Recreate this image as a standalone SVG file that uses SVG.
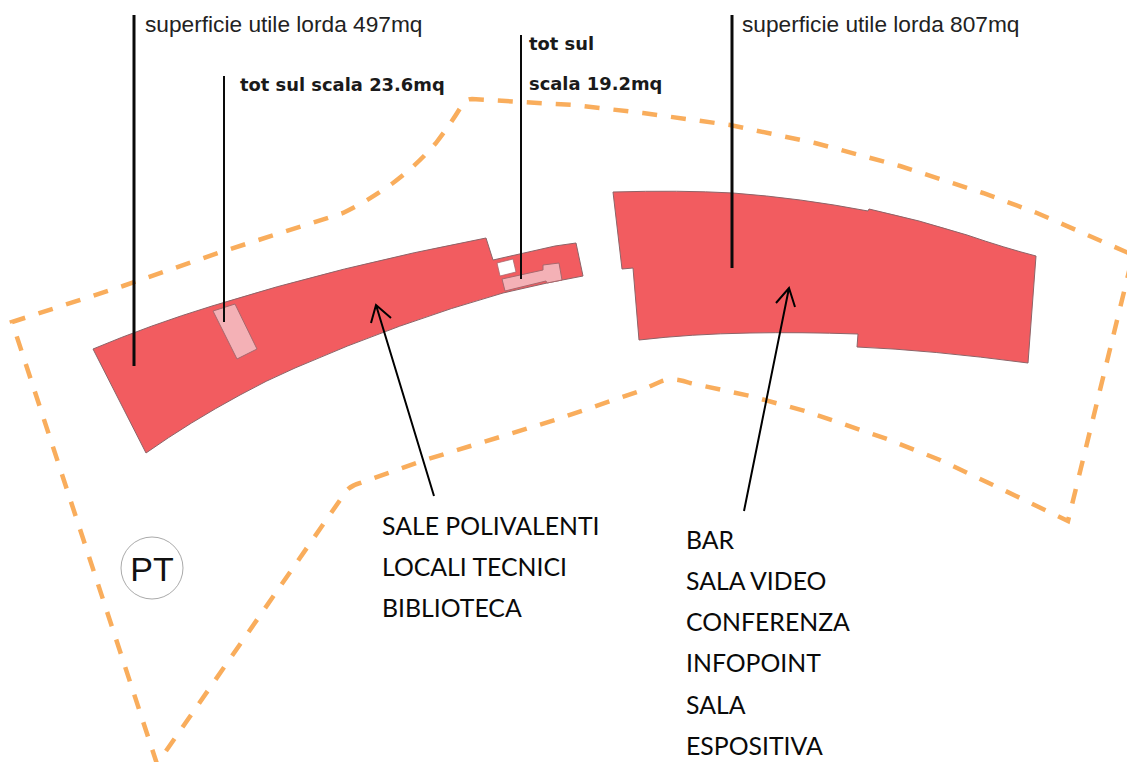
<svg xmlns="http://www.w3.org/2000/svg" width="1127" height="762" viewBox="0 0 1127 762">
<style>
.red{fill:#f25c60;stroke:#8d6468;stroke-width:1;stroke-linejoin:miter}
.pink{fill:#f4b1b6;stroke:#a8676c;stroke-width:1}
.hole{fill:#fff;stroke:#a8676c;stroke-width:.8}
.dash{fill:none;stroke:#f9ad5c;stroke-width:4.5;stroke-dasharray:15 14}
.lead{stroke:#0a0a0a;fill:none}
.arr{stroke:#000;stroke-width:2;fill:none}
.ar{font-family:"Liberation Sans",Arial,sans-serif;font-size:22.7px;fill:#222}
.bd{font-family:"DejaVu Sans",Verdana,sans-serif;font-weight:700;font-size:17.9px;fill:#1a1a1a}
.lb{font-family:Lato,"Open Sans",sans-serif;font-size:24.8px;fill:#0a0a0a}
</style>
<rect width="1127" height="762" fill="#fff"/>
<g id="boundary">
<path class="dash" d="M157 764L12 322L123 286L221 252L343 213Q368 201 393 183Q416 166 436 143Q452 122 462 105Q465 99 472 99L521 102L573 105L643 113L730 125L815 143L900 166L983 193L1037 213L1133 255L1068 521L993 485L940 460L887 439L805 411L750 396L690 383Q674 377 662 381L637 392L555 420L425 460L360 483Q352 485 347 490Z"/>
</g>
<g id="building-west">
<path class="red" d="M93 349Q150 325 212 306Q340 266 486 238L493 260L555 246L576 243L583 276L547 283L503 293Q400 322 295 368Q265 381 240 395Q190 422 146 453Z"/>
<path class="hole" d="M497 263L513 259L516 272L500 276Z"/>
<path class="pink" d="M502 279L543 270L543 265L559 263L562 280L547 283L546 281L505 291Z"/>
<path class="pink" d="M213 311L235 304L257 349L237 359Z"/>
</g>
<g id="building-east">
<path class="red" d="M613 192Q680 190 733 193Q800 198 868 211L869 209Q920 220 967 235Q1005 248 1036 256L1028 363Q930 350 857 347L858 334Q800 332 750 333Q690 334 639 340L633 268L622 269Z"/>
</g>
<g id="connectors">
<line class="lead" x1="134" y1="15" x2="134" y2="366" stroke-width="3"/>
<line class="lead" x1="224" y1="76" x2="224" y2="322" stroke-width="2"/>
<line class="lead" x1="521" y1="35" x2="521" y2="279" stroke-width="2"/>
<line class="lead" x1="732" y1="15" x2="732" y2="268" stroke-width="3"/>
<path class="arr" d="M434 496L376 305M371 323L376 305L391 318"/>
<path class="arr" d="M744 511L789 288M776 303L789 288L795 307"/>
</g>
<g id="label-sul-west"><text class="ar" x="145" y="32">superficie utile lorda 497mq</text></g>
<g id="label-sul-east"><text class="ar" x="742" y="32">superficie utile lorda 807mq</text></g>
<g id="label-scala-west"><text class="bd" x="240" y="91">tot sul scala 23.6mq</text></g>
<g id="label-scala-east"><text class="bd" x="529" y="50">tot sul</text><text class="bd" x="529" y="90">scala 19.2mq</text></g>
<g id="label-west-uses"><text class="lb" x="382" y="535">SALE POLIVALENTI</text><text class="lb" x="382" y="576">LOCALI TECNICI</text><text class="lb" x="382" y="617">BIBLIOTECA</text></g>
<g id="label-east-uses"><text class="lb" x="686" y="549">BAR</text><text class="lb" x="686" y="590">SALA VIDEO</text><text class="lb" x="686" y="631">CONFERENZA</text><text class="lb" x="686" y="672">INFOPOINT</text><text class="lb" x="686" y="714">SALA</text><text class="lb" x="686" y="755">ESPOSITIVA</text></g>
<g id="floor-badge"><ellipse cx="152" cy="568" rx="31" ry="31" fill="#fff" stroke="#aaa" stroke-width="1"/><text x="152" y="581" text-anchor="middle" font-family="Liberation Sans, Arial, sans-serif" font-size="34" fill="#111">PT</text></g>
</svg>
